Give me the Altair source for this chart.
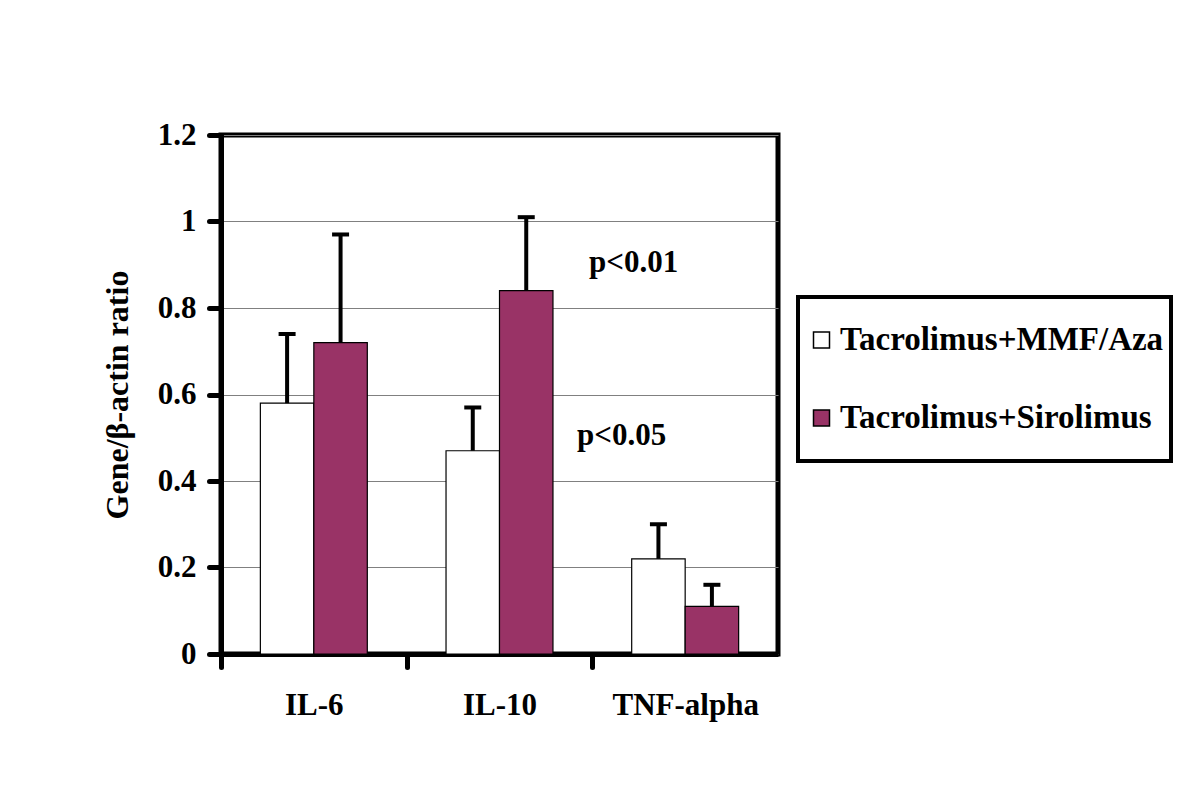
import altair as alt
import pandas as pd

categories = ["IL-6", "IL-10", "TNF-alpha"]
groups = ["Tacrolimus+MMF/Aza", "Tacrolimus+Sirolimus"]
mmf_values = [0.58, 0.47, 0.22]
mmf_upper = [0.74, 0.57, 0.30]
siro_values = [0.72, 0.84, 0.11]
siro_upper = [0.97, 1.01, 0.16]
y_ticks = [0, 0.2, 0.4, 0.6, 0.8, 1.0, 1.2]
colors = ["#ffffff", "#993366"]
ann_text = ["p<0.01", "p<0.05"]
ann_y = [0.905, 0.505]
ann_cat = ["TNF-alpha", "TNF-alpha"]

rows = []
for i, c in enumerate(categories):
    rows.append({"cat": c, "grp": groups[0], "value": mmf_values[i], "upper": mmf_upper[i]})
    rows.append({"cat": c, "grp": groups[1], "value": siro_values[i], "upper": siro_upper[i]})
df = pd.DataFrame(rows)
ann = pd.DataFrame({"cat": ann_cat, "y": ann_y, "text": ann_text})

FONT = "Liberation Serif"
W, H = 557, 519
P_IN, P_OUT = 0.424, 0.212
STEP = W / (len(categories) - P_IN + 2 * P_OUT)
HALF_GAP = P_OUT * STEP

x_scale = alt.Scale(domain=categories, paddingInner=P_IN, paddingOuter=P_OUT)
x_axis = alt.Axis(
    title=None, labelAngle=0, labelFont=FONT, labelFontSize=31, labelFontWeight="bold",
    labelColor="black", labelPadding=23, domainColor="black", domainWidth=5,
    tickColor="black", tickWidth=5, tickSize=13, bandPosition=0,
    tickOffset=-HALF_GAP, labelOffset=HALF_GAP, tickCap="round", grid=False,
)
y_scale = alt.Scale(domain=[0, 1.2], nice=False)
y_axis = alt.Axis(
    values=y_ticks, format=".1~f", grid=True, gridColor="#808080", gridWidth=1,
    domainColor="black", domainWidth=5, tickColor="black", tickWidth=5, tickSize=12,
    tickCap="round", labelFont=FONT, labelFontSize=31, labelFontWeight="bold",
    labelColor="black", labelPadding=13, title="Gene/β-actin ratio",
    titleFont=FONT, titleFontSize=32, titleFontWeight="bold", titleColor="black",
    titlePadding=23,
)

xo = alt.XOffset("grp:N", sort=groups, scale=alt.Scale(domain=groups, paddingInner=0, paddingOuter=0))

base = alt.Chart(df)
bars = base.mark_bar(stroke="black", strokeWidth=1.2).encode(
    x=alt.X("cat:N", sort=categories, scale=x_scale, axis=x_axis),
    xOffset=xo,
    y=alt.Y("value:Q", scale=y_scale, axis=y_axis),
    color=alt.Color(
        "grp:N", sort=groups,
        scale=alt.Scale(domain=groups, range=colors),
        legend=alt.Legend(
            title=None, orient="none",
            legendX=577, legendY=162, symbolType="square", symbolSize=256,
            symbolStrokeColor="black", symbolStrokeWidth=1.5, symbolOpacity=1,
            labelFont=FONT, labelFontSize=33, labelFontWeight="bold", labelColor="black",
            labelOffset=2, rowPadding=6, clipHeight=72, padding=7, strokeColor="black",
            labelLimit=600,
        ),
    ),
)
rules = base.mark_rule(color="black", strokeWidth=4).encode(
    x=alt.X("cat:N", sort=categories),
    xOffset=xo,
    y=alt.Y("value:Q"),
    y2="upper:Q",
)
caps = base.mark_tick(color="black", thickness=4, size=17, orient="horizontal", opacity=1).encode(
    x=alt.X("cat:N", sort=categories),
    xOffset=xo,
    y=alt.Y("upper:Q"),
)
ann1 = alt.Chart(ann[ann["text"] == "p<0.01"]).mark_text(
    font=FONT, fontSize=31, fontWeight="bold", color="black", align="center", baseline="middle", dx=2
).encode(
    x=alt.X("cat:N", sort=categories, bandPosition=0),
    y=alt.Y("y:Q"),
    text="text:N",
)
ann2 = alt.Chart(ann[ann["text"] == "p<0.05"]).mark_text(
    font=FONT, fontSize=31, fontWeight="bold", color="black", align="center", baseline="middle", dx=-10
).encode(
    x=alt.X("cat:N", sort=categories, bandPosition=0),
    y=alt.Y("y:Q"),
    text="text:N",
)

chart = alt.layer(bars, rules, caps, ann1, ann2).properties(
    width=W, height=H,
    autosize=alt.AutoSizeParams(type="none"),
    padding={"left": 213, "top": 127, "right": 400, "bottom": 140},
    background="white",
).configure_view(stroke="black", strokeWidth=5).configure_legend(strokeWidth=4)

chart.save("out.html", embed_options={"renderer": "svg", "actions": False})
